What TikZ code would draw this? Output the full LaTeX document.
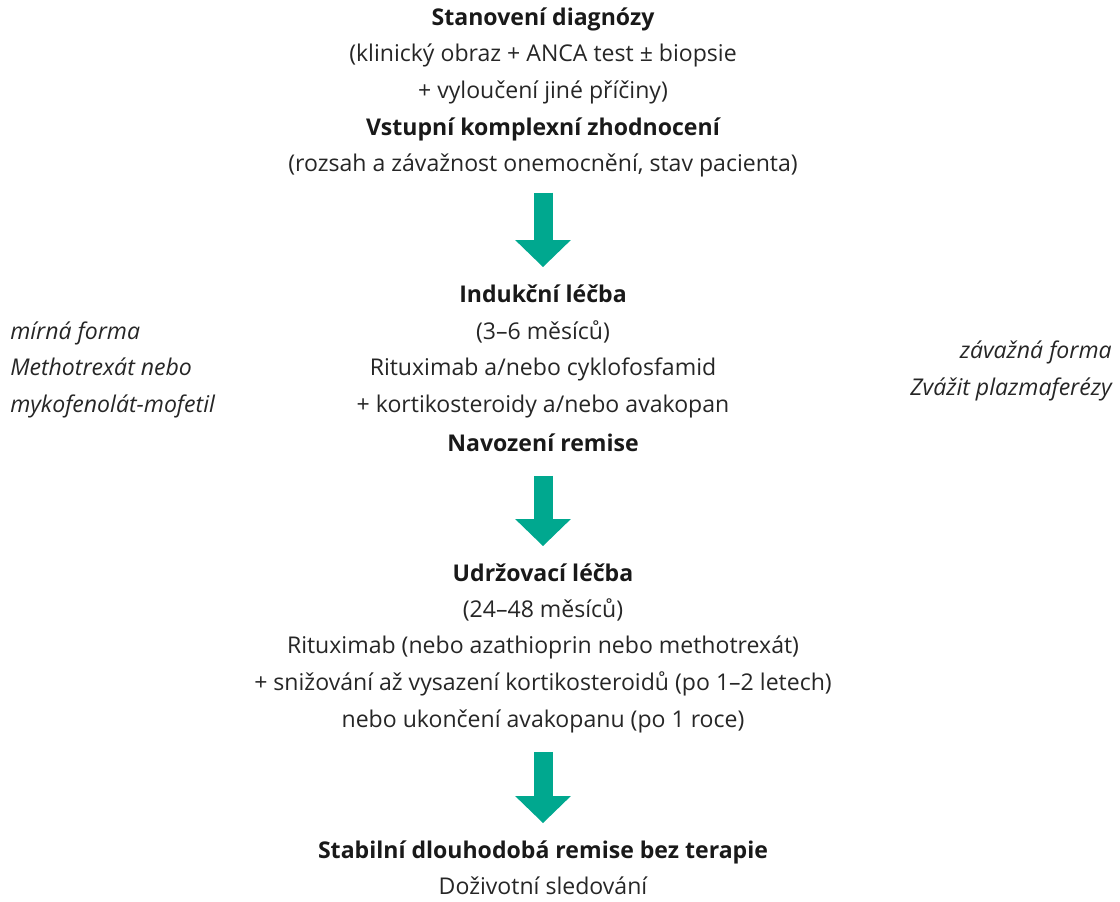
\documentclass[tikz,border=0pt]{standalone}
\usepackage{fontspec}
\setmainfont{Open Sans}
\usetikzlibrary{arrows.meta,positioning}
\definecolor{tealarrow}{HTML}{00A88F}

\begin{document}
\begin{tikzpicture}[
  x=0.75pt, y=-0.75pt,
  line/.style={
    inner sep=0pt,
    text height=12.5pt,
    text depth=4pt,
    font=\fontsize{17.3pt}{20pt}\selectfont\color{black!85}
  },
  head/.style={line, font=\fontsize{17.3pt}{20pt}\selectfont\bfseries\color{black!90}},
  side/.style={line, font=\fontsize{17.3pt}{20pt}\selectfont\itshape\color{black!85}},
  flow/.style={-{Triangle[length=20.25pt, width=40.5pt]}, line width=14.25pt, tealarrow}
]
\useasboundingbox (0,0) rectangle (1120,901);
% diagnosis
\node[head] (diag) at (543,20) {Stanovení diagnózy};
\node[line] (diag1) at (543,56) {(klinický obraz + ANCA test ± biopsie};
\node[line] (diag2) at (543,93) {+ vyloučení jiné příčiny)};
\node[head] (vstup) at (543,130) {Vstupní komplexní zhodnocení};
\node[line] (vstup1) at (543,166) {(rozsah a závažnost onemocnění, stav pacienta)};
% induction
\node[head] (indukce) at (543,297) {Indukční léčba};
\node[line] (indukce1) at (543,334) {(3–6 měsíců)};
\node[line] (indukce2) at (543,370) {Rituximab a/nebo cyklofosfamid};
\node[line] (indukce3) at (543,407) {+ kortikosteroidy a/nebo avakopan};
\node[head] (remise) at (543,446) {Navození remise};
% side notes
\node[side, anchor=west] (mirna) at (10,334) {mírná forma};
\node[side, anchor=west] (mirna1) at (10,370) {Methotrexát nebo};
\node[side, anchor=west] (mirna2) at (10,407) {mykofenolát-mofetil};
\node[side, anchor=east] (tezka) at (1112,353) {závažná forma};
\node[side, anchor=east] (tezka1) at (1112,390) {Zvážit plazmaferézy};
% maintenance
\node[head] (udrz) at (543,576) {Udržovací léčba};
\node[line] (udrz1) at (543,612) {(24–48 měsíců)};
\node[line] (udrz2) at (543,648) {Rituximab (nebo azathioprin nebo methotrexát)};
\node[line] (udrz3) at (543,685) {+ snižování až vysazení kortikosteroidů (po 1–2 letech)};
\node[line] (udrz4) at (543,722) {nebo ukončení avakopanu (po 1 roce)};
% outcome
\node[head] (stabil) at (543,853) {Stabilní dlouhodobá remise bez terapie};
\node[line] (stabil1) at (543,889) {Doživotní sledování};
% arrows
\draw[flow, shorten <=11.5pt, shorten >=14pt] (vstup1) -- (indukce);
\draw[flow, shorten <=14pt, shorten >=14pt] (remise) -- (udrz);
\draw[flow, shorten <=14pt, shorten >=14pt] (udrz4) -- (stabil);
\end{tikzpicture}
\end{document}
